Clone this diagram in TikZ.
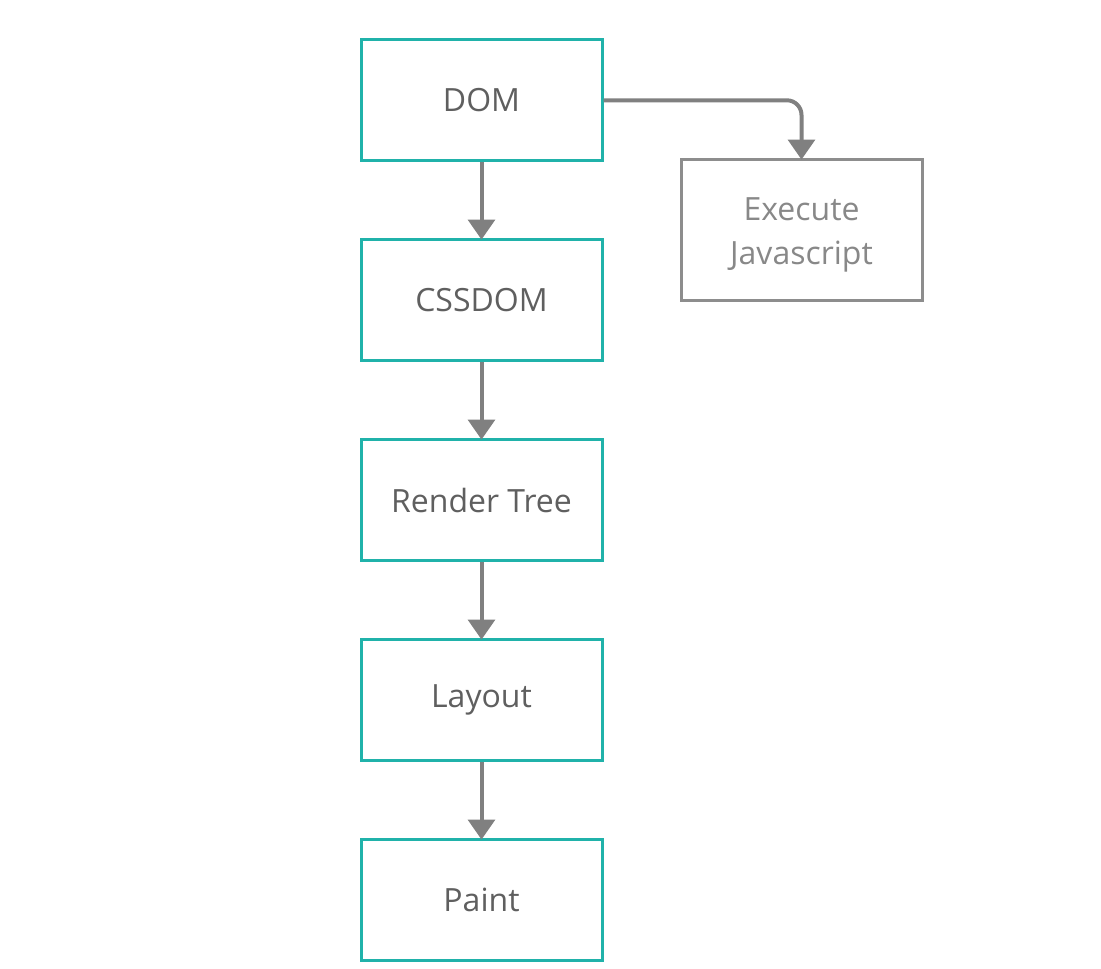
\documentclass[tikz,border=0pt]{standalone}
\usepackage{fontspec}
\setmainfont{Open Sans}
\usetikzlibrary{arrows.meta}
\definecolor{teal}{HTML}{20B2AA}
\definecolor{arrowgray}{HTML}{808080}
\definecolor{txtgray}{HTML}{5F5F5F}
\definecolor{jsgray}{HTML}{888888}
\tikzset{
  flowbox/.style={draw=teal, line width=2.25pt, minimum width=180.75pt, minimum height=90.75pt, inner sep=0pt, text=txtgray, font=\fontsize{24}{33}\selectfont},
  jsbox/.style={draw=arrowgray!90, line width=2.25pt, minimum width=180.75pt, minimum height=105.75pt, inner sep=0pt},
  jstext/.style={text=jsgray, align=center, font=\fontsize{24}{33}\selectfont, yshift=-3.75pt},
  conn/.style={draw=arrowgray, line width=3pt, -{Triangle[width=20pt,length=15pt]}, shorten >=-1pt}
}
\begin{document}
\begin{tikzpicture}[x=0.75pt,y=-0.75pt]
\useasboundingbox (0,0) rectangle (1101,969);
\node[flowbox] (dom) at (481.5,100.3) {DOM};
\node[flowbox] (css) at (481.5,300.3) {CSSDOM};
\node[flowbox] (rt) at (481.5,500.3) {Render Tree};
\node[flowbox] (lay) at (481.5,700.3) {Layout};
\node[flowbox] (paint) at (481.5,900.3) {Paint};
\node[jsbox, label={[jstext]center:Execute\\Javascript}] (js) at (801.5,230.3) {};
\draw[conn] (dom) -- (css);
\draw[conn] (css) -- (rt);
\draw[conn] (rt) -- (lay);
\draw[conn] (lay) -- (paint);
\draw[conn, rounded corners=11pt] (dom.east) -| (js.north);
\end{tikzpicture}
\end{document}
